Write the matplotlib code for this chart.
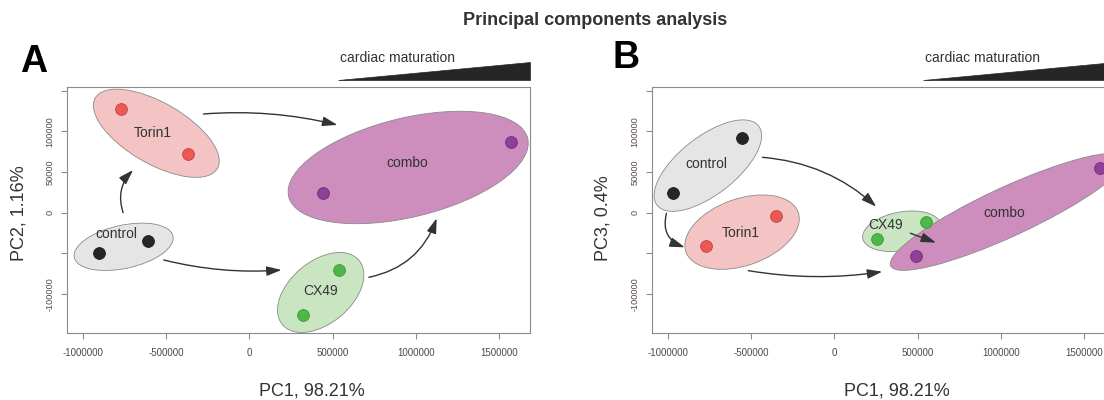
import numpy as np
import matplotlib
matplotlib.use("Agg")
import matplotlib.pyplot as plt
from matplotlib.patches import Ellipse, Polygon
import matplotlib.transforms as mtransforms

plt.rcParams['font.family'] = ['Liberation Sans', 'DejaVu Sans']

# ---------------- data ----------------
groups = ['control', 'Torin1', 'CX49', 'combo']

# Panel A: PC1 vs PC2 (two samples per group)
A_pc1 = [[-901000, -609000], [-772000, -367000], [320000, 536000], [443000, 1571000]]
A_pc2 = [[-49200, -34800], [127200, 72600], [-125800, -70500], [23900, 87300]]

# Panel B: PC1 vs PC3
B_pc1 = [[-966000, -553000], [-773000, -352000], [255000, 552000], [488000, 1594000]]
B_pc3 = [[23900, 91900], [-41300, -4100], [-32700, -11100], [-53300, 55400]]

x_ticks = [-1000000, -500000, 0, 500000, 1000000, 1500000]
x_ticklabels = ['-1000000', '-500000', '0', '500000', '1000000', '1500000']
y_ticks = [-100000, -50000, 0, 50000, 100000, 150000]
y_ticklabels = ['-100000', '', '0', '50000', '100000', '']

title = 'Principal components analysis'
xlabel = 'PC1, 98.21%'
ylabel_A = 'PC2, 1.16%'
ylabel_B = 'PC3, 0.4%'

# ---------------- styles / layout ----------------
fill_cols = {'control': '#e5e5e5', 'Torin1': '#f4c3c3', 'CX49': '#c9e5c1', 'combo': '#cd8ebe'}
pt_cols = {'control': '#262626', 'Torin1': '#ec5757', 'CX49': '#4cb847', 'combo': '#8f3f98'}
pt_edge = {'control': '#1a1a1a', 'Torin1': '#c84040', 'CX49': '#3a9a36', 'combo': '#6e2c78'}

# ellipse shape in pixels: semi-major, semi-minor, angle (deg), centre offset (px)
ell_A = {'control': (50.5, 21.6, 12.3, 0, 0), 'Torin1': (70.5, 30.6, -30, 1.8, -1.8),
         'CX49': (50, 31, 40, 0, 0), 'combo': (123, 49.5, 13.7, -9, 0)}
ell_B = {'control': (64.4, 28.9, 38, 0, 0), 'Torin1': (59.5, 33.4, 19.4, 1.4, -1),
         'CX49': (39.5, 19.3, 10.5, 0, -0.8), 'combo': (129, 24.6, 24.8, 0, 0)}

lab_A = {'control': (-800000, -26600), 'Torin1': (-583000, 97700),
         'CX49': (428000, -95900), 'combo': (950000, 60800)}
lab_B = {'control': (-771000, 59900), 'Torin1': (-560000, -25300),
         'CX49': (310000, -15100), 'combo': (1017000, -700)}

# arrows: (start, end, rad)
arr_A = [((-758000, 0), (-698000, 52500), -0.3),
         ((-276000, 121400), (528000, 107900), -0.08),
         ((-514000, -58200), (193000, -70500), 0.08),
         ((717000, -79500), (1124000, -6900), 0.28)]
arr_B = [((-1008000, -700), (-898000, -42600), 0.45),
         ((-432000, 68100), (251000, 7400), -0.17),
         ((-517000, -71300), (287000, -72600), 0.08),
         ((456000, -25300), (610000, -36900), 0.0)]

W, H = 1104, 400
fig = plt.figure(figsize=(W / 100, H / 100), dpi=100)
fig.patch.set_facecolor('white')

XLIM = (-1093000, 1683000)
YLIM = (-147400, 155200)
AX_W, AX_H = 462.5, 246.0
AX_BOTTOM = 332.5

text_col = '#333333'
spine_col = '#8a8a8a'
tick_lab_col = '#554640'


def panel(left_px, pc1, pcy, ell, labs, arrows, ylabel, letter, letter_xy):
    ax = fig.add_axes([left_px / W, (H - AX_BOTTOM) / H, AX_W / W, AX_H / H])
    ax.set_xlim(*XLIM)
    ax.set_ylim(*YLIM)
    for s in ax.spines.values():
        s.set_color(spine_col)
        s.set_linewidth(0.8)
    ax.set_xticks(x_ticks, x_ticklabels)
    ax.set_yticks(y_ticks, y_ticklabels)
    ax.tick_params(axis='both', direction='out', length=4, width=0.8, color=spine_col,
                   labelcolor=tick_lab_col)
    ax.tick_params(axis='x', labelsize=7, pad=7)
    ax.tick_params(axis='y', labelsize=6.6, pad=5, labelrotation=90)
    for t in ax.get_yticklabels():
        t.set_va('center')
        t.set_family(['Liberation Sans Narrow', 'Liberation Sans', 'DejaVu Sans'])

    # ellipses
    for g, xs, ys in zip(groups, pc1, pcy):
        a, b, ang, dx, dy = ell[g]
        cx, cy = np.mean(xs), np.mean(ys)
        tr = fig.dpi_scale_trans + mtransforms.ScaledTranslation(cx, cy, ax.transData)
        e = Ellipse((dx / 100, dy / 100), 2 * a / 100, 2 * b / 100, angle=ang,
                    transform=tr, facecolor=fill_cols[g], edgecolor=spine_col,
                    linewidth=0.6, zorder=1)
        ax.add_patch(e)
    # arrows
    for (s, e, rad) in arrows:
        ax.annotate('', xy=e, xytext=s, xycoords='data', textcoords='data',
                    arrowprops=dict(arrowstyle='-|>,head_length=0.75,head_width=0.24',
                                    color='#333333', lw=1.0, shrinkA=0, shrinkB=0,
                                    mutation_scale=12,
                                    connectionstyle=f'arc3,rad={rad}'),
                    zorder=3)
    # points
    for g, xs, ys in zip(groups, pc1, pcy):
        ax.plot(xs, ys, 'o', ms=8.5, mfc=pt_cols[g], mec=pt_edge[g], mew=0.6,
                zorder=4, clip_on=False)
    # group labels
    for g in groups:
        x, y = labs[g]
        ax.text(x, y, g, ha='center', va='center', fontsize=10, color=text_col, zorder=5)

    # maturation wedge
    btr = mtransforms.blended_transform_factory(ax.transData, ax.transAxes)
    x0 = 534000
    tri = Polygon([(x0, 1.0264), (XLIM[1], 1.0264), (XLIM[1], 1.0984)], closed=True,
                  transform=btr, facecolor='#262626', edgecolor='#262626', lw=0.5,
                  clip_on=False)
    ax.add_patch(tri)
    ax.text(887000, 1.1146, 'cardiac maturation', transform=btr, ha='center', va='center',
            fontsize=10, color=text_col)

    ax.set_xlabel(xlabel, fontsize=13, color=text_col)
    ax.xaxis.set_label_coords(0.528, -0.238)
    ax.xaxis.label.set_va('center')
    ax.set_ylabel(ylabel, fontsize=13, color=text_col)
    ax.yaxis.label.set_va('center')
    fig.text(letter_xy[0] / W, 1 - letter_xy[1] / H, letter, fontsize=27,
             fontweight='bold', ha='center', va='center', color='black')
    return ax


axA = panel(67.3, A_pc1, A_pc2, ell_A, lab_A, arr_A, ylabel_A, 'A', (33.3, 61.5))
axA.yaxis.set_label_coords(-0.1036, 0.485)
axB = panel(652.3, B_pc1, B_pc3, ell_B, lab_B, arr_B, ylabel_B, 'B', (626, 57.5))
axB.yaxis.set_label_coords(-0.1066, 0.464)

fig.text(595 / W, 1 - 20.5 / H, title, fontsize=13, fontweight='bold', ha='center',
         va='center', color=text_col)

fig.savefig('out.png', dpi=100, facecolor='white')
